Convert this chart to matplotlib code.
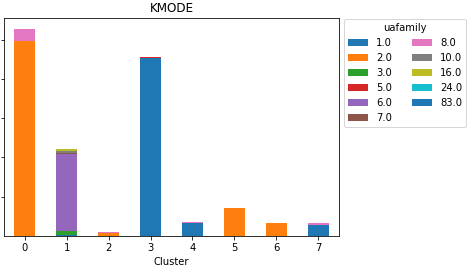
import numpy as np
import pandas as pd
import matplotlib
matplotlib.use("Agg")
import matplotlib.pyplot as plt

clusters = [0, 1, 2, 3, 4, 5, 6, 7]
families = ["1.0", "2.0", "3.0", "5.0", "6.0", "7.0", "8.0", "10.0", "16.0", "24.0", "83.0"]

# counts per uafamily for each cluster
fam_1 = [0, 4, 0, 908, 66, 0, 0, 56]
fam_2 = [991, 0, 15, 0, 0, 143, 66, 0]
fam_3 = [0, 20, 0, 0, 0, 0, 0, 0]
fam_5 = [0, 0, 0, 5, 0, 0, 0, 0]
fam_6 = [0, 393, 0, 0, 0, 0, 0, 0]
fam_7 = [0, 5, 0, 0, 0, 0, 0, 0]
fam_8 = [65, 0, 5, 0, 5, 0, 0, 10]
fam_10 = [0, 12, 0, 0, 0, 0, 0, 0]
fam_16 = [0, 7, 0, 0, 0, 0, 0, 0]
fam_24 = [0, 0, 0, 0, 0, 0, 0, 0]
fam_83 = [0, 0, 0, 0, 0, 0, 0, 0]

df = pd.DataFrame(
    np.array([fam_1, fam_2, fam_3, fam_5, fam_6, fam_7, fam_8,
              fam_10, fam_16, fam_24, fam_83]).T,
    index=pd.Index(clusters, name="Cluster"),
    columns=pd.Index(families, name="uafamily"),
)

fig = plt.figure(figsize=(473 / 72, 269 / 72), dpi=72)
ax = fig.add_axes([4 / 473, 33 / 269, 335 / 473, 217.7 / 269])
df.plot(kind="bar", stacked=True, ax=ax, rot=0)
ax.set_yticks([200, 400, 600, 800, 1000])
# the y tick labels sit outside the cropped picture in the reference
ax.tick_params(axis="y", labelleft=False)
ax.set_title("KMODE")
ax.legend(title="uafamily", ncol=2, loc="upper left",
          bbox_to_anchor=(1.015, 0.995), borderaxespad=0)

fig.savefig("out.png", dpi=72)
